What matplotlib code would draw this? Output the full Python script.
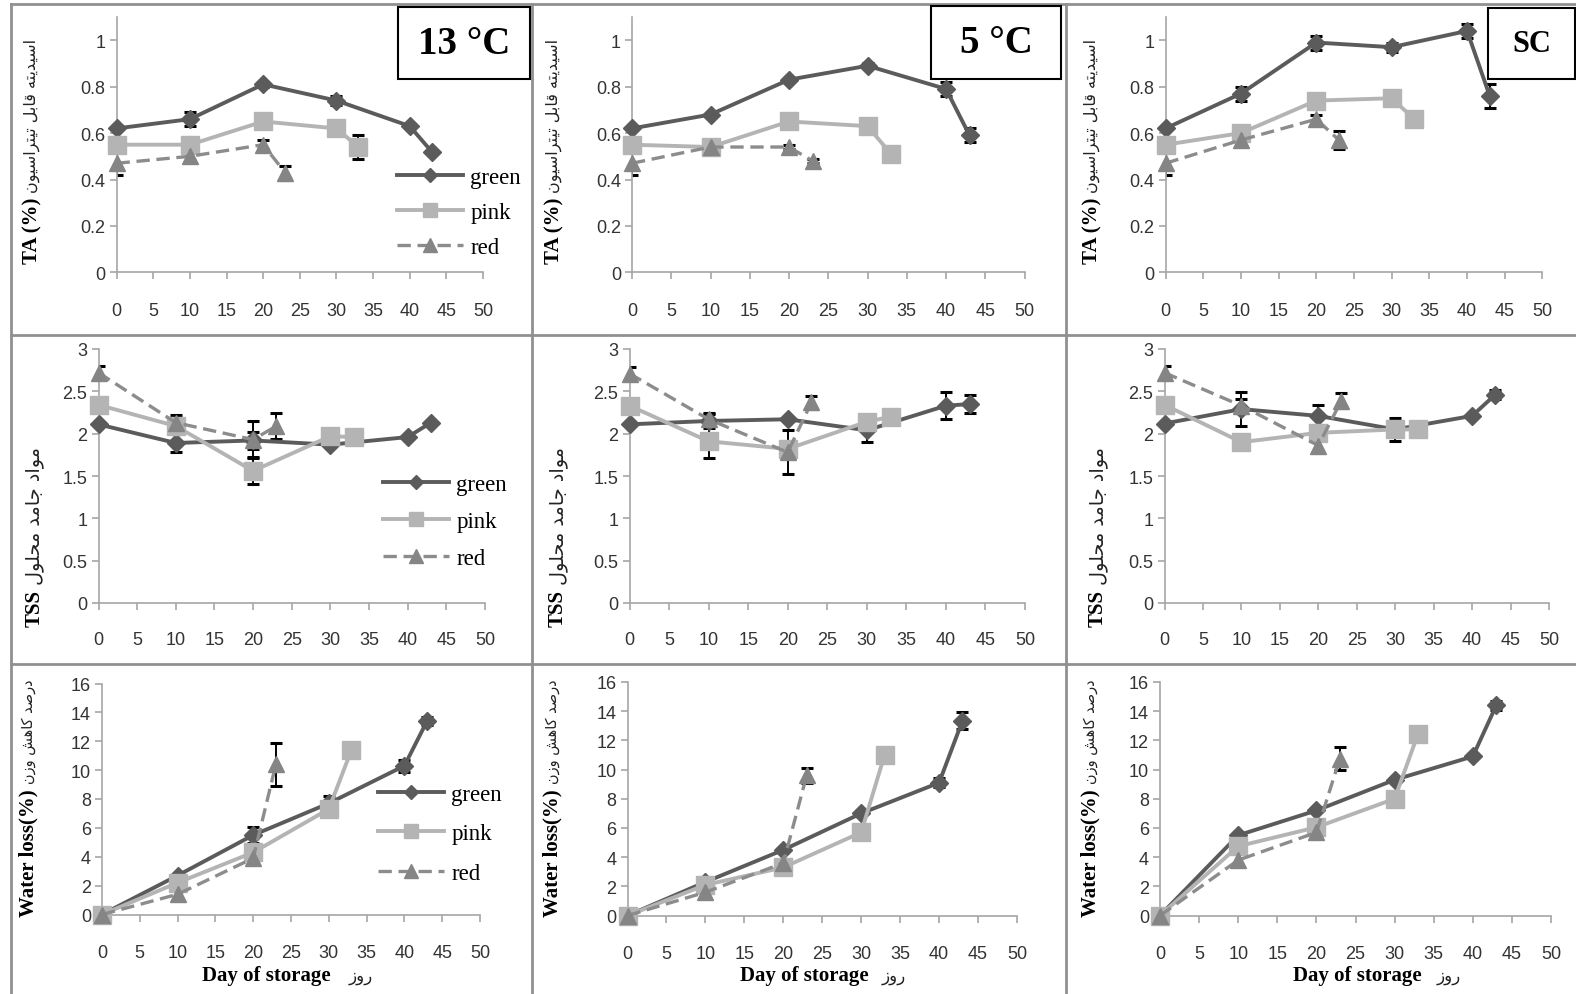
import matplotlib
matplotlib.use("Agg")
import matplotlib.pyplot as plt
from matplotlib.lines import Line2D
from matplotlib.patches import Rectangle

plt.rcParams['font.family'] = ['Liberation Serif', 'DejaVu Sans']

W, H = 1576, 995

# storage days for each ripening stage
days_green = [0, 10, 20, 30, 40, 43]
days_pink = [0, 10, 20, 30, 33]
days_red = [0, 10, 20, 23]

# titratable acidity (%)
ta_13_green = [0.62, 0.66, 0.81, 0.74, 0.63, 0.52]
ta_13_green_err = [0, 0.03, 0.01, 0.02, 0.01, 0]
ta_13_pink = [0.55, 0.55, 0.65, 0.62, 0.54]
ta_13_pink_err = [0, 0, 0, 0, 0.05]
ta_13_red = [0.47, 0.50, 0.55, 0.43]
ta_13_red_err = [0.05, 0, 0.02, 0.03]

ta_5_green = [0.62, 0.68, 0.83, 0.89, 0.79, 0.59]
ta_5_green_err = [0, 0, 0, 0.01, 0.03, 0.03]
ta_5_pink = [0.55, 0.54, 0.65, 0.63, 0.51]
ta_5_pink_err = [0, 0, 0, 0, 0]
ta_5_red = [0.47, 0.54, 0.54, 0.48]
ta_5_red_err = [0.05, 0, 0.01, 0.01]

ta_sc_green = [0.62, 0.77, 0.99, 0.97, 1.04, 0.76]
ta_sc_green_err = [0, 0.03, 0.03, 0.02, 0.03, 0.05]
ta_sc_pink = [0.55, 0.60, 0.74, 0.75, 0.66]
ta_sc_pink_err = [0, 0, 0, 0, 0]
ta_sc_red = [0.47, 0.57, 0.66, 0.57]
ta_sc_red_err = [0.05, 0, 0.02, 0.04]

# total soluble solids
tss_13_green = [2.11, 1.89, 1.92, 1.87, 1.96, 2.13]
tss_13_green_err = [0, 0.11, 0.10, 0, 0, 0]
tss_13_pink = [2.34, 2.09, 1.56, 1.97, 1.96]
tss_13_pink_err = [0, 0, 0.16, 0, 0]
tss_13_red = [2.72, 2.13, 1.93, 2.09]
tss_13_red_err = [0.08, 0.09, 0.22, 0.15]

tss_5_green = [2.11, 2.15, 2.17, 2.04, 2.33, 2.35]
tss_5_green_err = [0, 0.08, 0, 0.14, 0.16, 0.11]
tss_5_pink = [2.33, 1.91, 1.82, 2.14, 2.20]
tss_5_pink_err = [0, 0.2, 0, 0, 0]
tss_5_red = [2.71, 2.17, 1.78, 2.37]
tss_5_red_err = [0.08, 0.08, 0.26, 0.08]

tss_sc_green = [2.12, 2.29, 2.21, 2.05, 2.21, 2.46]
tss_sc_green_err = [0, 0.2, 0.13, 0.14, 0, 0.05]
tss_sc_pink = [2.34, 1.90, 2.01, 2.05, 2.05]
tss_sc_pink_err = [0, 0, 0, 0, 0]
tss_sc_red = [2.72, 2.33, 1.86, 2.39]
tss_sc_red_err = [0.08, 0.08, 0, 0.09]

# water loss (%)
wl_13_green = [0, 2.7, 5.5, 7.7, 10.3, 13.4]
wl_13_green_err = [0, 0, 0.55, 0.5, 0.4, 0.3]
wl_13_pink = [0, 2.2, 4.3, 7.3, 11.4]
wl_13_pink_err = [0, 0, 0, 0, 0]
wl_13_red = [0, 1.4, 3.9, 10.4]
wl_13_red_err = [0, 0, 0, 1.5]

wl_5_green = [0, 2.3, 4.5, 7.0, 9.1, 13.35]
wl_5_green_err = [0, 0, 0, 0, 0.3, 0.6]
wl_5_pink = [0, 2.1, 3.3, 5.7, 11.0]
wl_5_pink_err = [0, 0, 0, 0, 0]
wl_5_red = [0, 1.6, 3.6, 9.6]
wl_5_red_err = [0, 0, 0, 0.5]

wl_sc_green = [0, 5.5, 7.2, 9.3, 10.9, 14.4]
wl_sc_green_err = [0, 0, 0, 0, 0, 0.3]
wl_sc_pink = [0, 4.75, 6.05, 8.0, 12.45]
wl_sc_pink_err = [0, 0, 0, 0, 0]
wl_sc_red = [0, 3.8, 5.7, 10.75]
wl_sc_red_err = [0, 0, 0, 0.8]

conditions = ['13 °C', '5 °C', 'SC']
stage_names = ['green', 'pink', 'red']

ta_label = ('TA (%)', 'اسیدیته قابل تیتراسیون')
tss_label = ('TSS', 'مواد جامد محلول')
wl_label = ('Water loss(%)', 'درصد کاهش وزن')
x_label = ('Day of storage', 'روز')

# arabic presentation forms: isolated, final, initial, medial
FORMS = {
    'ا': ('\ufe8d', '\ufe8e', None, None),
    'ب': ('\ufe8f', '\ufe90', '\ufe91', '\ufe92'),
    'ت': ('\ufe95', '\ufe96', '\ufe97', '\ufe98'),
    'ج': ('\ufe9d', '\ufe9e', '\ufe9f', '\ufea0'),
    'ح': ('\ufea1', '\ufea2', '\ufea3', '\ufea4'),
    'د': ('\ufea9', '\ufeaa', None, None),
    'ر': ('\ufead', '\ufeae', None, None),
    'ز': ('\ufeaf', '\ufeb0', None, None),
    'س': ('\ufeb1', '\ufeb2', '\ufeb3', '\ufeb4'),
    'ش': ('\ufeb5', '\ufeb6', '\ufeb7', '\ufeb8'),
    'ص': ('\ufeb9', '\ufeba', '\ufebb', '\ufebc'),
    'ق': ('\ufed5', '\ufed6', '\ufed7', '\ufed8'),
    'ك': ('\ufed9', '\ufeda', '\ufedb', '\ufedc'),
    'ک': ('\ufb8e', '\ufb8f', '\ufb90', '\ufb91'),
    'ل': ('\ufedd', '\ufede', '\ufedf', '\ufee0'),
    'م': ('\ufee1', '\ufee2', '\ufee3', '\ufee4'),
    'ن': ('\ufee5', '\ufee6', '\ufee7', '\ufee8'),
    'ه': ('\ufee9', '\ufeea', '\ufeeb', '\ufeec'),
    'و': ('\ufeed', '\ufeee', None, None),
    'ي': ('\ufef1', '\ufef2', '\ufef3', '\ufef4'),
    'ی': ('\ufbfc', '\ufbfd', '\ufbfe', '\ufbff'),
}


def fa(text):
    out = []
    for i, ch in enumerate(text):
        if ch not in FORMS:
            out.append(ch)
            continue
        prev = text[i - 1] if i > 0 else ''
        nxt = text[i + 1] if i + 1 < len(text) else ''
        jp = prev in FORMS and FORMS[prev][2] is not None
        jn = nxt in FORMS and FORMS[ch][2] is not None
        iso, fin, ini, med = FORMS[ch]
        if jp and jn:
            out.append(med)
        elif jp:
            out.append(fin)
        elif jn:
            out.append(ini)
        else:
            out.append(iso)
    return ''.join(out)[::-1]


rows = [
    dict(data=[[ta_13_green, ta_13_green_err, ta_13_pink, ta_13_pink_err, ta_13_red, ta_13_red_err],
               [ta_5_green, ta_5_green_err, ta_5_pink, ta_5_pink_err, ta_5_red, ta_5_red_err],
               [ta_sc_green, ta_sc_green_err, ta_sc_pink, ta_sc_pink_err, ta_sc_red, ta_sc_red_err]],
         ylim=(0, 1.1), ticks=[0, 0.2, 0.4, 0.6, 0.8, 1.0], ticklabels=['0', '0.2', '0.4', '0.6', '0.8', '1'],
         label=ta_label),
    dict(data=[[tss_13_green, tss_13_green_err, tss_13_pink, tss_13_pink_err, tss_13_red, tss_13_red_err],
               [tss_5_green, tss_5_green_err, tss_5_pink, tss_5_pink_err, tss_5_red, tss_5_red_err],
               [tss_sc_green, tss_sc_green_err, tss_sc_pink, tss_sc_pink_err, tss_sc_red, tss_sc_red_err]],
         ylim=(0, 3), ticks=[0, 0.5, 1, 1.5, 2, 2.5, 3], ticklabels=['0', '0.5', '1', '1.5', '2', '2.5', '3'],
         label=tss_label),
    dict(data=[[wl_13_green, wl_13_green_err, wl_13_pink, wl_13_pink_err, wl_13_red, wl_13_red_err],
               [wl_5_green, wl_5_green_err, wl_5_pink, wl_5_pink_err, wl_5_red, wl_5_red_err],
               [wl_sc_green, wl_sc_green_err, wl_sc_pink, wl_sc_pink_err, wl_sc_red, wl_sc_red_err]],
         ylim=(0, 16), ticks=list(range(0, 17, 2)), ticklabels=[str(v) for v in range(0, 17, 2)],
         label=wl_label),
]

# axes boxes in pixels: x of y-axis, x of day 50, y of bottom, y of top
boxes = [
    [(116.6, 483, 273.4, 18), (632, 1024.5, 273.4, 18), (1165.5, 1542.5, 273.4, 18)],
    [(98.5, 485, 604, 350), (629.5, 1025, 604, 350), (1164.5, 1549, 604, 350)],
    [(102, 480, 915.5, 684.5), (627.5, 1017, 916.6, 683), (1160, 1551, 916.6, 683)],
]
xtick_pad = [16.5, 15, 16]
ylab_x = [[32, 554, 1092], [35, 558, 1098], [28, 552, 1090]]
ylab_bottom = [264, 627, 917]
fa_len = [154, 137, 105]
fa_gap = [5, 5, 5]
legend_at = [(397, 168, 0.6), (383, 475, 0.69), (378, 785, 0.8)]

green_c, pink_c, red_c, redline_c = '#5b5b5b', '#b4b4b4', '#858585', '#8c8c8c'
axis_c = '#a6a6a6'

fig = plt.figure(figsize=(W / 100, H / 100), dpi=100)
renderer = fig.canvas.get_renderer()

for r, row in enumerate(rows):
    for c in range(3):
        x0, x1, yb, yt = boxes[r][c]
        ax = fig.add_axes([x0 / W, 1 - yb / H, (x1 - x0) / W, (yb - yt) / H])
        g, ge, p, pe, rd, rde = row['data'][c]
        hg, = ax.plot(days_green, g, color=green_c, lw=2.8, marker='D', ms=9.5,
                      mfc=green_c, mec=green_c, zorder=3, clip_on=False)
        hp, = ax.plot(days_pink, p, color=pink_c, lw=2.8, marker='s', ms=12.5,
                      mfc=pink_c, mec=pink_c, zorder=4, clip_on=False)
        hr, = ax.plot(days_red, rd, color=redline_c, lw=2.4, ls=(0, (4.0, 2.0)), marker='^', ms=12,
                      mfc=red_c, mec=red_c, zorder=5, clip_on=False)
        for xs, ys, es in [(days_green, g, ge), (days_pink, p, pe), (days_red, rd, rde)]:
            sel = [i for i, e in enumerate(es) if e > 0]
            if sel:
                ax.errorbar([xs[i] for i in sel], [ys[i] for i in sel], yerr=[es[i] for i in sel],
                            fmt='none', ecolor='black', elinewidth=1.4, capsize=4, capthick=2.2,
                            zorder=2.5)
        ax.set_xlim(0, 50)
        ax.set_ylim(*row['ylim'])
        ax.set_xticks(range(0, 51, 5))
        ax.set_yticks(row['ticks'])
        ax.set_yticklabels(row['ticklabels'])
        for s in ['top', 'right']:
            ax.spines[s].set_visible(False)
        for s in ['left', 'bottom']:
            ax.spines[s].set_color(axis_c)
            ax.spines[s].set_linewidth(1.2)
        ax.tick_params(axis='both', colors=axis_c, length=5, width=1.2, labelcolor='#333333',
                       labelsize=13)
        ax.tick_params(axis='x', pad=xtick_pad[r])
        ax.tick_params(axis='y', pad=3)
        for lab in ax.get_xticklabels() + ax.get_yticklabels():
            lab.set_family('Liberation Sans')
        ax.patch.set_visible(False)

        # y label: english part then persian part above it
        xc = ylab_x[r][c]
        eng, per = row['label']
        t1 = fig.text(xc / W, 1 - ylab_bottom[r] / H, eng, rotation=90, ha='center', va='bottom',
                      fontsize=15, fontweight='bold', family='Liberation Serif')
        bb = t1.get_window_extent(renderer)
        t2 = fig.text(xc / W, (bb.y1 + fa_gap[r]) / H, fa(per), rotation=90, ha='center',
                      va='bottom', fontsize=11, family='DejaVu Sans', color='#222222')
        L = t2.get_window_extent(renderer).height
        t2.set_fontsize(11 * fa_len[r] / L)

        if c == 0:
            lx, ly, sp = legend_at[r]
            ax.legend([hg, hp, hr], stage_names, loc='upper left',
                      bbox_to_anchor=(lx / W, 1 - ly / H), bbox_transform=fig.transFigure,
                      frameon=False, fontsize=16.5, handlelength=2.9, handletextpad=0.3,
                      labelspacing=sp, borderpad=0, borderaxespad=0, markerscale=0.8)

# x labels under the bottom row
for ex, px_ in [(202, 349), (740, 882), (1293, 1437)]:
    fig.text(ex / W, 1 - 976 / H, x_label[0], ha='left', va='center', fontsize=15,
             fontweight='bold', family='Liberation Serif')
    fig.text(px_ / W, 1 - 976 / H, fa(x_label[1]), ha='left', va='center', fontsize=12,
             family='DejaVu Sans', color='#222222')

# condition boxes
for (bx0, by0, bx1, by1), name, fs in zip([(398, 8, 530, 80), (931, 7, 1061, 80), (1488, 9, 1575, 80)],
                                          conditions, [28, 28, 22]):
    fig.add_artist(Rectangle((bx0 / W, 1 - by1 / H), (bx1 - bx0) / W, (by1 - by0) / H,
                             transform=fig.transFigure, fill=True, fc='white', ec='black', lw=1.5,
                             zorder=10))
    fig.text((bx0 + bx1) / 2 / W, 1 - (by0 + by1) / 2 / H, name, ha='center', va='center',
             fontsize=fs, fontweight='bold', family='Liberation Serif', zorder=11)

# panel frames
frame_c = '#909090'
for xv in [11, 531.5, 1066]:
    fig.add_artist(Line2D([xv / W, xv / W], [0, 1 - 5 / H], transform=fig.transFigure,
                          color=frame_c, lw=2))
for yv in [5, 336, 665]:
    fig.add_artist(Line2D([11 / W, 1], [1 - yv / H, 1 - yv / H], transform=fig.transFigure,
                          color=frame_c, lw=2))

fig.savefig('out.png', dpi=100)
